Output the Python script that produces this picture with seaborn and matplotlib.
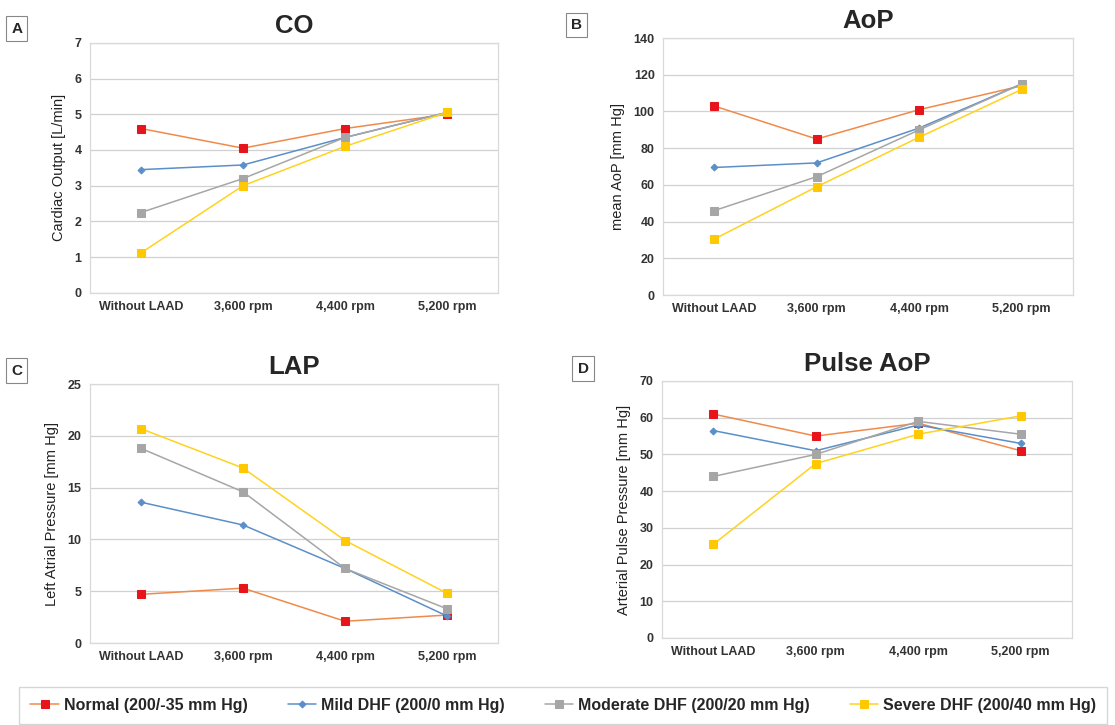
import pandas as pd
import matplotlib.pyplot as plt
import seaborn as sns

# x categories shared by all four panels
conditions = ['Without LAAD', '3,600 rpm', '4,400 rpm', '5,200 rpm']
groups = ['Normal (200/-35 mm Hg)', 'Mild DHF (200/0 mm Hg)',
          'Moderate DHF (200/20 mm Hg)', 'Severe DHF (200/40 mm Hg)']

# values, one list per group
co_normal = [4.6, 4.05, 4.6, 5.0]
co_mild = [3.45, 3.58, 4.35, 5.05]
co_moderate = [2.25, 3.2, 4.35, 5.05]
co_severe = [1.12, 3.0, 4.1, 5.05]

aop_normal = [103, 85, 101, 114]
aop_mild = [69.5, 72, 91, 115]
aop_moderate = [46, 64.5, 90, 115]
aop_severe = [30.5, 59, 86, 112]

lap_normal = [4.7, 5.3, 2.1, 2.7]
lap_mild = [13.6, 11.4, 7.2, 2.6]
lap_moderate = [18.8, 14.6, 7.2, 3.3]
lap_severe = [20.7, 16.9, 9.9, 4.8]

pulse_normal = [61, 55, 58.5, 51]
pulse_mild = [56.5, 51, 58, 53]
pulse_moderate = [44, 50, 59, 55.5]
pulse_severe = [25.5, 47.5, 55.5, 60.5]

# line color, marker color, marker, marker size
styles = [
    ('#f08a4b', '#e8141b', 's', 6),
    ('#5b8fc9', '#5b8fc9', 'D', 3.5),
    ('#a6a6a6', '#a6a6a6', 's', 6),
    ('#ffd21f', '#ffc800', 's', 6),
]

sns.set_style('white')
plt.rcParams['font.family'] = ['Liberation Sans', 'DejaVu Sans']

fig = plt.figure(figsize=(11.15, 7.25), dpi=100)

# letter, title, y label, series, y range, tick step, axes rect, letter position
panels = [
    ('A', 'CO', 'Cardiac Output [L/min]', [co_normal, co_mild, co_moderate, co_severe],
     (0, 7), 1, [0.0807, 0.596, 0.366, 0.345], (0.010, 0.955)),
    ('B', 'AoP', 'mean AoP [mm Hg]', [aop_normal, aop_mild, aop_moderate, aop_severe],
     (0, 140), 20, [0.5946, 0.593, 0.3677, 0.3545], (0.512, 0.960)),
    ('C', 'LAP', 'Left Atrial Pressure [mm Hg]', [lap_normal, lap_mild, lap_moderate, lap_severe],
     (0, 25), 5, [0.0807, 0.1131, 0.366, 0.357], (0.010, 0.483)),
    ('D', 'Pulse AoP', 'Arterial Pulse Pressure [mm Hg]',
     [pulse_normal, pulse_mild, pulse_moderate, pulse_severe],
     (0, 70), 10, [0.5937, 0.12, 0.3677, 0.3545], (0.518, 0.486)),
]

handles = []
for letter, title, ylabel, series, ylim, step, rect, lpos in panels:
    ax = fig.add_axes(rect)
    for name, vals, (lc, mc, mk, ms) in zip(groups, series, styles):
        df = pd.DataFrame({'condition': conditions, 'value': vals})
        sns.lineplot(data=df, x='condition', y='value', ax=ax, color=lc, lw=1.1,
                     marker=mk, markersize=ms, markerfacecolor=mc,
                     markeredgecolor=mc, label=name, legend=False)
    ax.set_xlim(-0.5, 3.5)
    ax.set_ylim(*ylim)
    ax.set_yticks(range(ylim[0], ylim[1] + 1, step))
    ax.grid(axis='y', color='#d0d0d0', lw=0.9)
    ax.set_axisbelow(True)
    for sp in ax.spines.values():
        sp.set_color('#d9d9d9')
        sp.set_linewidth(0.9)
    ax.tick_params(axis='both', length=0, labelsize=9, pad=6)
    for t in ax.get_xticklabels() + ax.get_yticklabels():
        t.set_fontweight('bold')
        t.set_color('#333333')
    ax.set_xlabel('')
    ax.set_ylabel(ylabel, fontsize=10.5, color='#222222', labelpad=6)
    ax.set_title(title, fontsize=18.5, fontweight='bold', pad=7)
    fig.text(lpos[0], lpos[1], letter, fontsize=11, fontweight='bold',
             bbox=dict(boxstyle='square,pad=0.35', fc='white', ec='#888888', lw=0.8))
    if not handles:
        handles, labels = ax.get_legend_handles_labels()

fig.legend(handles, groups, loc='lower left', bbox_to_anchor=(0.010, -0.01),
           ncol=4, frameon=True, fancybox=False, edgecolor='#cccccc',
           prop={'size': 11.5, 'weight': 'bold'}, handlelength=1.8,
           columnspacing=2.5, handletextpad=0.3, borderpad=0.7)

fig.savefig('out.png', dpi=100)
